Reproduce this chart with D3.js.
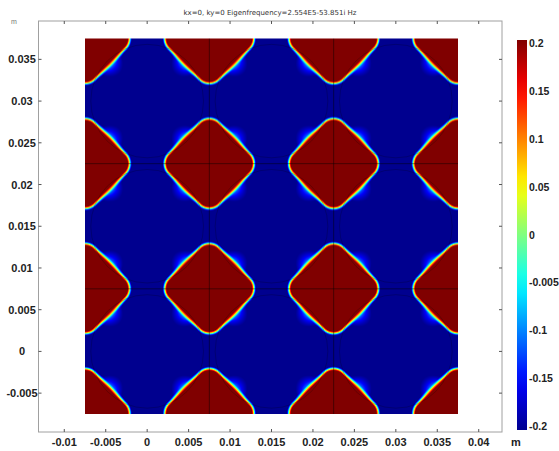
<!DOCTYPE html>
<html lang="en">
<head>
<meta charset="UTF-8"/>
<title>Eigenmode field</title>
<style>
  *{margin:0;padding:0}
  body{background:#fff;width:559px;height:451px;overflow:hidden;font-family:"Liberation Sans",Arial,sans-serif}
  svg{display:block}
  .lbl{font-weight:700;font-size:11px;fill:#222}
  .title{font-family:"DejaVu Sans",sans-serif;font-size:7px;fill:#333}
</style>
</head>
<body>
<svg id="chart" width="559" height="451"></svg>
<script src="https://d3js.org/d3.v7.min.js"></script>
<script>
const titleText = 'kx=0, ky=0 Eigenfrequency=2.554E5-53.851i Hz';

const xTicks = [-0.01,-0.005,0,0.005,0.01,0.015,0.02,0.025,0.03,0.035,0.04];
const xTickLabels = ['-0.01','-0.005','0','0.005','0.01','0.015','0.02','0.025','0.03','0.035','0.04'];
const yTicks = [-0.005,0,0.005,0.01,0.015,0.02,0.025,0.03,0.035];
const yTickLabels = ['-0.005','0','0.005','0.01','0.015','0.02','0.025','0.03','0.035'];

// colour bar (the "-0.005" label is printed like that in the original)
const cbTicks  = [0.2,0.15,0.1,0.05,0,-0.05,-0.1,-0.15,-0.2];
const cbLabels = ['0.2','0.15','0.1','0.05','0','-0.005','-0.1','-0.15','-0.2'];

// data window and geometry of the unit cells
const domainX = [-0.0075, 0.0375];
const domainY = [-0.0075, 0.0375];
const cellLines = [0.0075, 0.0225];            // unit cell borders
const holeX = [0, 0.015, 0.03];                // circular inclusions
const holeY = [0, 0.015, 0.03];
const holeR = [0.0068];
// red lobes (positive field) sit on the cell corners: rounded diamonds
const lobeX = [-0.0075, 0.0075, 0.0225, 0.0375];
const lobeY = [-0.0075, 0.0075, 0.0225, 0.0375];
const lobeCore  = [0.0037];  // half diagonal of the sharp diamond
const lobeRound = [0.0017];  // rounding radius added around it
const edgeBand  = [0.0004];  // half width of red->blue transition
const haloAmp   = [0.17];    // light blue glow on the slanted sides
const haloLen   = [0.0011];

// jet colour map
const jet = d3.scaleLinear()
  .domain([-0.2,-0.15,-0.05,0.05,0.15,0.2])
  .range(['#00008f','#0000ff','#00ffff','#ffff00','#ff0000','#800000'])
  .clamp(true);

const frame = {l:38.5, r:502, t:21, b:432};
const plot  = {l:85, r:458, t:38.5, b:414};

const x = d3.scaleLinear().domain(domainX).range([plot.l, plot.r]);
const y = d3.scaleLinear().domain(domainY).range([plot.b, plot.t]);

const svg = d3.select('#chart');

// ---- field raster
function smooth(t){ t = Math.max(0, Math.min(1, t)); return t*t*(3-2*t); }
function lobeDist(X, Y){
  // signed distance to a rounded diamond, plus how far along a side we are
  const c = lobeCore[0];
  const px = (X - Y + c) / 2;
  let dist, side = 0;
  if (px < 0) dist = Math.hypot(X, Y - c);
  else if (px > c) dist = Math.hypot(X - c, Y);
  else { dist = (X + Y - c) / Math.SQRT2; side = Math.pow(Math.sin(Math.PI * px / c), 2); }
  if (X + Y < c) dist = (X + Y - c) / Math.SQRT2;
  return [dist - lobeRound[0], side];
}
function field(xv, yv){
  let best = Infinity, side = 0;
  lobeX.forEach(cx => lobeY.forEach(cy => {
    const r = lobeDist(Math.abs(xv-cx), Math.abs(yv-cy));
    if (r[0] < best){ best = r[0]; side = r[1]; }
  }));
  const w = edgeBand[0];
  const t = smooth((best + w) / (2*w));
  const core = 0.24 - 0.48*t;
  const halo = haloAmp[0]*side*Math.exp(-Math.max(best,0)/haloLen[0])*t;
  return core + halo;
}

const W = Math.round(plot.r - plot.l), H = Math.round(plot.b - plot.t);
const cv = document.createElement('canvas');
cv.width = W; cv.height = H;
const ctx = cv.getContext('2d');
const img = ctx.createImageData(W, H);
for (let j = 0; j < H; j++){
  const yv = y.invert(plot.t + j + 0.5);
  for (let i = 0; i < W; i++){
    const xv = x.invert(plot.l + i + 0.5);
    const c = d3.rgb(jet(field(xv, yv)));
    const k = 4*(j*W + i);
    img.data[k] = c.r; img.data[k+1] = c.g; img.data[k+2] = c.b; img.data[k+3] = 255;
  }
}
ctx.putImageData(img, 0, 0);

svg.append('defs').append('clipPath').attr('id','clip')
  .append('rect').attr('x',plot.l).attr('y',plot.t)
  .attr('width',plot.r-plot.l).attr('height',plot.b-plot.t);

svg.append('image')
  .attr('x', plot.l).attr('y', plot.t)
  .attr('width', plot.r-plot.l).attr('height', plot.b-plot.t)
  .attr('preserveAspectRatio','none')
  .attr('href', cv.toDataURL());

const geo = svg.append('g').attr('clip-path','url(#clip)');
// inclusion outlines
holeX.forEach(hx => holeY.forEach(hy => {
  geo.append('ellipse')
    .attr('cx', x(hx)).attr('cy', y(hy))
    .attr('rx', x(hx+holeR[0]) - x(hx)).attr('ry', y(hy) - y(hy+holeR[0]))
    .attr('fill','none').attr('stroke','#000').attr('stroke-opacity',0.2).attr('stroke-width',1);
}));
// cell borders
cellLines.forEach(v => {
  geo.append('line').attr('x1',x(v)).attr('x2',x(v)).attr('y1',plot.t).attr('y2',plot.b)
    .attr('stroke','#000').attr('stroke-opacity',0.45);
  geo.append('line').attr('y1',y(v)).attr('y2',y(v)).attr('x1',plot.l).attr('x2',plot.r)
    .attr('stroke','#000').attr('stroke-opacity',0.45);
});

// ---- frame and ticks
svg.append('rect')
  .attr('x',frame.l).attr('y',frame.t)
  .attr('width',frame.r-frame.l).attr('height',frame.b-frame.t)
  .attr('fill','none').attr('stroke','#a0a0a0');

const tk = svg.append('g').attr('stroke','#555');
xTicks.forEach(v => {
  tk.append('line').attr('x1',x(v)).attr('x2',x(v)).attr('y1',frame.t).attr('y2',frame.t+3);
  tk.append('line').attr('x1',x(v)).attr('x2',x(v)).attr('y1',frame.b).attr('y2',frame.b-3);
});
yTicks.forEach(v => {
  tk.append('line').attr('y1',y(v)).attr('y2',y(v)).attr('x1',frame.l).attr('x2',frame.l+3);
  tk.append('line').attr('y1',y(v)).attr('y2',y(v)).attr('x1',frame.r).attr('x2',frame.r-3);
});

svg.append('g').selectAll('text').data(xTicks).join('text')
  .attr('class','lbl').attr('text-anchor','middle')
  .attr('x', d => x(d)).attr('y', 446)
  .text((d,i) => xTickLabels[i]);

svg.append('g').selectAll('text').data(yTicks).join('text')
  .attr('class','lbl').attr('text-anchor','middle')
  .attr('x', 22).attr('y', d => y(d) + 4)
  .text((d,i) => yTickLabels[i]);

svg.append('text').attr('x',14).attr('y',24).attr('text-anchor','middle')
  .style('font-size','7px').style('fill','#777').text('m');
svg.append('text').attr('class','lbl').attr('x',511).attr('y',446).text('m');

svg.append('text').attr('class','title').attr('x',270).attr('y',15)
  .attr('text-anchor','middle').text(titleText);

// ---- colour bar
const cb = {x:517, w:10, t:40, b:430};
const grad = svg.select('defs').append('linearGradient').attr('id','jet')
  .attr('x1',0).attr('x2',0).attr('y1',1).attr('y2',0);
const stops = d3.range(0, 1.0001, 0.05);
grad.selectAll('stop').data(stops).join('stop')
  .attr('offset', d => d)
  .attr('stop-color', d => jet(-0.2 + 0.4*d));
svg.append('rect').attr('x',cb.x).attr('y',cb.t).attr('width',cb.w).attr('height',cb.b-cb.t)
  .attr('fill','url(#jet)');

const cbY = d3.scaleLinear().domain([-0.2,0.2]).range([426,43]);
svg.append('g').selectAll('text').data(cbTicks).join('text')
  .attr('class','lbl').attr('x', 529).attr('y', d => cbY(d) + 4)
  .style('font-size','10.5px')
  .text((d,i) => cbLabels[i]);
</script>
</body>
</html>
